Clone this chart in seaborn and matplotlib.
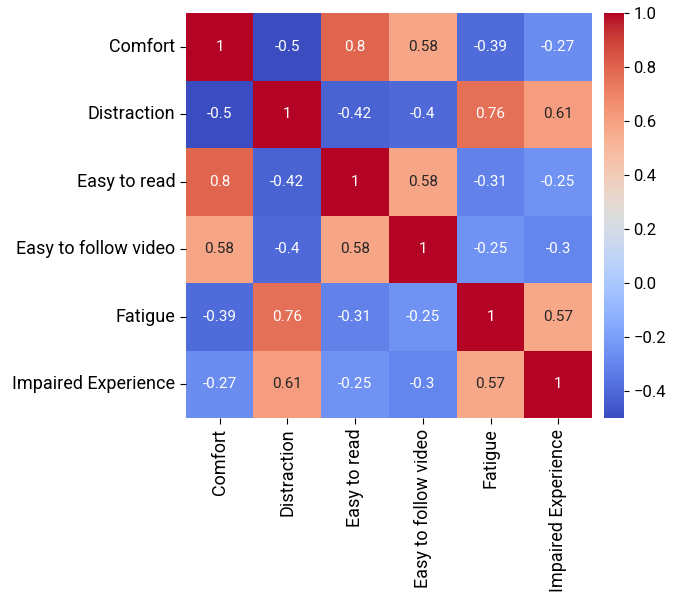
import matplotlib
matplotlib.use("Agg")
import matplotlib.pyplot as plt
import seaborn as sns
import pandas as pd
import numpy as np

labels = ["Comfort", "Distraction", "Easy to read", "Easy to follow video", "Fatigue", "Impaired Experience"]
row_comfort = [1, -0.5, 0.8, 0.58, -0.39, -0.27]
row_distraction = [-0.5, 1, -0.42, -0.4, 0.76, 0.61]
row_easy_read = [0.8, -0.42, 1, 0.58, -0.31, -0.25]
row_easy_video = [0.58, -0.4, 0.58, 1, -0.25, -0.3]
row_fatigue = [-0.39, 0.76, -0.31, -0.25, 1, 0.57]
row_impaired = [-0.27, 0.61, -0.25, -0.3, 0.57, 1]

df = pd.DataFrame([row_comfort, row_distraction, row_easy_read, row_easy_video, row_fatigue, row_impaired],
                  index=labels, columns=labels)

plt.rcParams['font.family'] = ['Roboto', 'DejaVu Sans']
fig = plt.figure(figsize=(6.73, 5.94), dpi=100)
ax = fig.add_axes([0.276, 0.296, 0.604, 0.682])
cax = fig.add_axes([0.897, 0.296, 0.03, 0.682])
sns.heatmap(df, annot=True, cmap="coolwarm", ax=ax, cbar_ax=cax, annot_kws={"fontsize": 11})
ax.tick_params(axis='both', labelsize=13, length=4)
ax.set_xticklabels(labels, rotation=90)
ax.set_yticklabels(labels, rotation=0)
cax.tick_params(labelsize=12)
fig.savefig("out.png", dpi=100)
